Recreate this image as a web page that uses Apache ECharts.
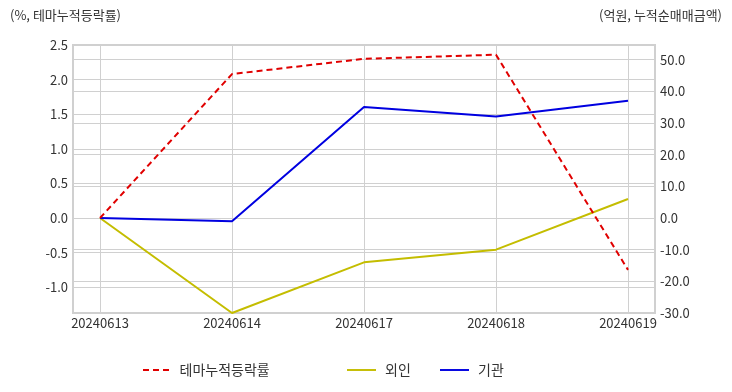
<!DOCTYPE html>
<html><head><meta charset="utf-8">
<script src="https://cdn.jsdelivr.net/npm/echarts@6/dist/echarts.min.js"></script>
<style>html,body{margin:0;padding:0;background:#fff}#c{width:732px;height:392px}</style>
</head><body><div id="c"></div>
<script>
var dates = ['20240613','20240614','20240617','20240618','20240619'];
var themeRate = [0, 2.08, 2.30, 2.36, -0.75];
var foreign = [0, -30.0, -14.0, -10.0, 6.0];
var inst = [0, -1.0, 35.0, 32.0, 37.0];
var leftTicks = [-1.0, -0.5, 0.0, 0.5, 1.0, 1.5, 2.0, 2.5];
var rightTicks = [-30, -20, -10, 0, 10, 20, 30, 40, 50];
var leftMin = -1.373, leftMax = 2.5;
var rightMin = -30, rightMax = 54.6;

var font = '"Noto Sans CJK KR", "Noto Sans", sans-serif';
var chart = echarts.init(document.getElementById('c'), null, {renderer:'canvas'});
var labelStyle = {color:'#333', fontSize:13, fontFamily:font};
var lgText = {color:'#333', fontSize:14, fontFamily:font, padding:[0,0,0,4]};
var solidIcon = 'path://M0,0h30v2h-30z';
var dashIcon = 'path://M0,0h6v2h-6z M10,0h6v2h-6z M20,0h6v2h-6z';
chart.setOption({
  animation:false,
  textStyle:{fontFamily:font},
  grid:[
    {left:73, right:77, top:45, bottom:79, show:true, borderColor:'#d0d0d0', borderWidth:2, containLabel:false},
    {left:100, right:104, top:45, bottom:79, containLabel:false}
  ],
  xAxis:[
    {type:'value', gridIndex:0, show:false, min:0, max:1},
    {type:'category', gridIndex:1, data:dates, boundaryGap:false,
     axisLine:{show:false}, axisTick:{show:false},
     axisLabel:Object.assign({margin:4}, labelStyle),
     splitLine:{show:true, lineStyle:{color:'#d0d0d0', width:1}}}
  ],
  yAxis:[
    {type:'value', gridIndex:0, position:'left', min:leftMin, max:leftMax,
     axisLine:{show:false}, axisTick:{show:false, customValues:leftTicks},
     axisLabel:Object.assign({margin:5, customValues:leftTicks, formatter:function(v){return v.toFixed(1);}}, labelStyle),
     splitLine:{show:true, lineStyle:{color:'#d0d0d0', width:1}}},
    {type:'value', gridIndex:0, position:'right', min:rightMin, max:rightMax,
     axisLine:{show:false}, axisTick:{show:false, customValues:rightTicks},
     axisLabel:Object.assign({margin:5, customValues:rightTicks, formatter:function(v){return v.toFixed(1);}}, labelStyle),
     splitLine:{show:true, lineStyle:{color:'#d0d0d0', width:1}}},
    {type:'value', gridIndex:1, show:false, min:leftMin, max:leftMax, splitLine:{show:false}},
    {type:'value', gridIndex:1, show:false, min:rightMin, max:rightMax, splitLine:{show:false}}
  ],
  legend:[
    {left:138, top:358, itemWidth:29, itemHeight:2, data:[{name:'테마누적등락률', icon:dashIcon}], textStyle:lgText},
    {left:342, top:358, itemWidth:29, itemHeight:2, data:[{name:'외인', icon:solidIcon}], textStyle:lgText},
    {left:435, top:358, itemWidth:29, itemHeight:2, data:[{name:'기관', icon:solidIcon}], textStyle:lgText}
  ],
  graphic:[
    {type:'text', left:10, top:9, style:{text:'(%, 테마누적등락률)', fill:'#333', font:'13px '+font}},
    {type:'text', right:10, top:9, style:{text:'(억원, 누적순매매금액)', fill:'#333', font:'13px '+font}}
  ],
  series:[
    {name:'테마누적등락률', type:'line', xAxisIndex:1, yAxisIndex:2, data:themeRate, symbol:'none', color:'#e00000',
     lineStyle:{width:2, type:[6,4], color:'#e00000'}, z:3},
    {name:'외인', type:'line', xAxisIndex:1, yAxisIndex:3, data:foreign, symbol:'none', color:'#c4bd00',
     lineStyle:{width:2, color:'#c4bd00'}, z:2},
    {name:'기관', type:'line', xAxisIndex:1, yAxisIndex:3, data:inst, symbol:'none', color:'#0000e0',
     lineStyle:{width:2, color:'#0000e0'}, z:2}
  ]
});
</script></body></html>
